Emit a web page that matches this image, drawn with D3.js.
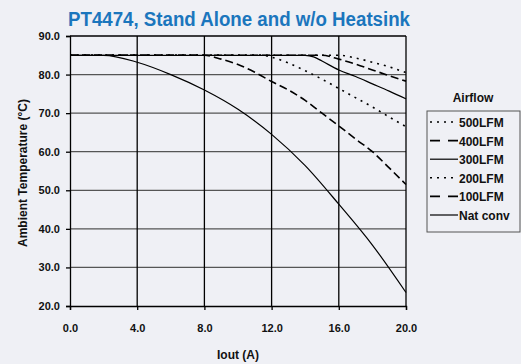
<!DOCTYPE html>
<html>
<head>
<meta charset="utf-8">
<script src="https://d3js.org/d3.v7.min.js"></script>
<style>
  body { margin: 0; background: #eff0f5; }
  text { font-family: Arial, "Liberation Sans", sans-serif; font-weight: bold; fill: #111; }
</style>
</head>
<body>
<svg id="chart" width="521" height="364"></svg>
<script>
// derating data (Iout in A, temp in C)
var xTicks = [0, 4, 8, 12, 16, 20];
var yTicks = [20, 30, 40, 50, 60, 70, 80, 90];
var seriesNames = ["500LFM", "400LFM", "300LFM", "200LFM", "100LFM", "Nat conv"];

var lfm500x = [0, 16, 17, 18, 19, 20];
var lfm500y = [85, 85, 84.3, 83.2, 82, 80.5];
var lfm400x = [0, 15, 16, 17, 18, 19, 20];
var lfm400y = [85, 85, 84, 82.7, 81.2, 79.7, 78.3];
var lfm300x = [0, 14, 14.5, 15, 16, 17, 18, 19, 20];
var lfm300y = [85, 85, 84.6, 83.5, 81.2, 79.5, 77.6, 75.7, 73.7];
var lfm200x = [0, 11.5, 12, 13, 14, 15, 16, 17, 18, 19, 20];
var lfm200y = [85, 85, 84.5, 83, 81, 78.8, 76.4, 74, 71.6, 69, 66.5];
var lfm100x = [0, 8, 9, 10, 11, 12, 13, 14, 15, 16, 17, 18, 19, 20];
var lfm100y = [85, 85, 84, 82.6, 80.6, 78.2, 76, 73.3, 70, 66.7, 63.3, 60, 55.8, 51.5];
var natx = [0, 2, 4, 6, 8, 10, 12, 14, 16, 18, 20];
var naty = [85, 85, 83.2, 80, 76, 71, 64.5, 56.4, 46.4, 35.8, 23.5];

var allX = [lfm500x, lfm400x, lfm300x, lfm200x, lfm100x, natx];
var allY = [lfm500y, lfm400y, lfm300y, lfm200y, lfm100y, naty];
var dashes = ["2,5", "8,4", null, "2,5", "8,4", null];
var widths = [1.6, 1.6, 1.2, 1.6, 1.6, 1.2];

var svg = d3.select("#chart");
// note: "top" is a reserved window global, so use plot* names
var plotLeft = 70, plotRight = 406, plotTop = 36, plotBottom = 306;

var xScale = d3.scaleLinear().domain([0, 20]).range([plotLeft, plotRight]);
var yScale = d3.scaleLinear().domain([20, 90]).range([plotBottom, plotTop]);

// title
svg.append("text")
  .attr("x", 68).attr("y", 26)
  .attr("textLength", 342).attr("lengthAdjust", "spacingAndGlyphs")
  .style("font-family", "'Liberation Sans Narrow', 'Arial Narrow', Arial, sans-serif")
  .style("font-size", "20px")
  .style("fill", "#1b76bd")
  .text("PT4474, Stand Alone and w/o Heatsink");

// horizontal grid (grey) and vertical grid (black)
svg.append("g").selectAll("line")
  .data(yTicks.slice(1, -1))
  .enter().append("line")
  .attr("x1", plotLeft).attr("x2", plotRight)
  .attr("y1", function (d) { return yScale(d); })
  .attr("y2", function (d) { return yScale(d); })
  .attr("stroke", "#555").attr("stroke-width", 1.3);

svg.append("g").selectAll("line")
  .data(xTicks.slice(1))
  .enter().append("line")
  .attr("y1", plotTop).attr("y2", plotBottom)
  .attr("x1", function (d) { return xScale(d); })
  .attr("x2", function (d) { return xScale(d); })
  .attr("stroke", "#000").attr("stroke-width", 1.3);

// top border
svg.append("line")
  .attr("x1", plotLeft).attr("x2", plotRight).attr("y1", plotTop).attr("y2", plotTop)
  .attr("stroke", "#000").attr("stroke-width", 1.3);

// axes
var yAxis = d3.axisLeft(yScale).tickValues(yTicks).tickSize(4).tickPadding(6)
  .tickFormat(d3.format(".1f"));
var xAxis = d3.axisBottom(xScale).tickValues(xTicks).tickSize(4).tickPadding(14)
  .tickFormat(d3.format(".1f"));

var gy = svg.append("g").attr("transform", "translate(" + plotLeft + ",0)").call(yAxis);
var gx = svg.append("g").attr("transform", "translate(0," + plotBottom + ")").call(xAxis);
[gy, gx].forEach(function (g) {
  g.select(".domain").attr("stroke", "#000").attr("stroke-width", 1.3);
  g.selectAll(".tick line").attr("stroke", "#000").attr("stroke-width", 1.3);
  g.selectAll("text").style("font-size", "11px").style("font-family", "Arial, sans-serif")
    .style("font-weight", "bold").attr("fill", "#111");
});

// axis titles
svg.append("text")
  .attr("x", 238).attr("y", 359)
  .attr("text-anchor", "middle")
  .style("font-size", "12px")
  .text("Iout  (A)");

svg.append("text")
  .attr("transform", "translate(27,173) rotate(-90)")
  .attr("text-anchor", "middle")
  .style("font-size", "12px")
  .text("Ambient Temperature (°C)");

// curves
var line = d3.line()
  .x(function (d) { return xScale(d[0]); })
  .y(function (d) { return yScale(d[1]); })
  .curve(d3.curveMonotoneX);

for (var i = 0; i < allX.length; i++) {
  var pts = allX[i].map(function (x, j) { return [x, allY[i][j]]; });
  svg.append("path")
    .attr("d", line(pts))
    .attr("fill", "none")
    .attr("stroke", "#000")
    .attr("stroke-width", widths[i])
    .attr("stroke-dasharray", dashes[i]);
}

// legend
svg.append("text")
  .attr("x", 473).attr("y", 102)
  .attr("text-anchor", "middle")
  .style("font-size", "12px")
  .text("Airflow");

svg.append("rect")
  .attr("x", 427).attr("y", 111).attr("width", 93).attr("height", 121)
  .attr("fill", "none").attr("stroke", "#555").attr("stroke-width", 1);

var legendY = d3.scaleLinear().domain([0, 5]).range([122, 215]);
var lg = svg.append("g").selectAll("g")
  .data(seriesNames)
  .enter().append("g")
  .attr("transform", function (d, i) { return "translate(0," + legendY(i) + ")"; });

lg.append("line")
  .attr("x1", 430).attr("x2", 458).attr("y1", 0).attr("y2", 0)
  .attr("stroke", "#000")
  .attr("stroke-width", function (d, i) { return widths[i]; })
  .attr("stroke-dasharray", function (d, i) { return dashes[i] ? (dashes[i] == "8,4" ? "10,8" : "2,5") : null; });

lg.append("text")
  .attr("x", 459).attr("y", 5)
  .style("font-size", "12px")
  .text(function (d) { return d; });
</script>
</body>
</html>
